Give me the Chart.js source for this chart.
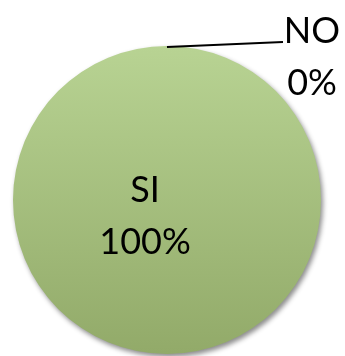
<!DOCTYPE html>
<html>
<head>
<meta charset="utf-8">
<script src="https://cdn.jsdelivr.net/npm/chart.js@4/dist/chart.umd.min.js"></script>
<style>
  html, body { margin: 0; padding: 0; background: #fff; }
  #wrap { width: 345px; height: 356px; }
</style>
</head>
<body>
<div id="wrap"><canvas id="chart" width="345" height="356"></canvas></div>
<script>
// chart data
const categories = ['SI', 'NO'];
const values = [100, 0];
const pctLabels = ['100%', '0%'];

const FONT = '36px Lato, "Open Sans", sans-serif';

// soft drop shadow under the pie, like the office chart
const shadowPlugin = {
  id: 'pieShadow',
  beforeDatasetDraw(chart) {
    const ctx = chart.ctx;
    ctx.save();
    ctx.shadowColor = 'rgba(0,0,0,0.45)';
    ctx.shadowBlur = 5;
    ctx.shadowOffsetX = 2;
    ctx.shadowOffsetY = 3;
  },
  afterDatasetDraw(chart) {
    chart.ctx.restore();
  },
};

// category + percent labels; the zero slice gets a leader line
const labelPlugin = {
  id: 'pieLabels',
  afterDatasetsDraw(chart) {
    const ctx = chart.ctx;
    const arcs = chart.getDatasetMeta(0).data;
    ctx.save();
    ctx.fillStyle = '#000';
    ctx.font = FONT;
    ctx.textAlign = 'center';
    ctx.textBaseline = 'alphabetic';

    arcs.forEach((arc, i) => {
      const { x, y, startAngle, outerRadius } = arc.getProps(['x', 'y', 'startAngle', 'outerRadius'], true);
      if (values[i] > 0) {
        ctx.fillText(categories[i], x - 22, y + 2);
        ctx.fillText(pctLabels[i], x - 22, y + 54);
      } else {
        // slice of zero width sits at its start angle on the rim
        const px = x + Math.cos(startAngle) * outerRadius;
        const py = y + Math.sin(startAngle) * outerRadius;
        const lx = x + 145;
        ctx.strokeStyle = '#000';
        ctx.lineWidth = 1.8;
        ctx.beginPath();
        ctx.moveTo(px, py + 1);
        ctx.lineTo(lx - 29, py - 4);
        ctx.stroke();
        ctx.fillText(categories[i], lx, y - 157);
        ctx.fillText(pctLabels[i], lx, y - 105);
      }
    });
    ctx.restore();
  },
};

new Chart(document.getElementById('chart'), {
  type: 'pie',
  data: {
    labels: categories,
    datasets: [{
      data: values,
      borderWidth: 0,
      backgroundColor(context) {
        const area = context.chart.chartArea;
        if (!area) return '#a5bf7c';
        const g = context.chart.ctx.createLinearGradient(0, area.top, 0, area.bottom);
        g.addColorStop(0, '#b8d393');
        g.addColorStop(1, '#92aa69');
        return g;
      },
    }],
  },
  options: {
    responsive: false,
    animation: false,
    layout: { padding: { left: 13, right: 24, top: 46, bottom: 2 } },
    plugins: {
      legend: { display: false },
      tooltip: { enabled: false },
    },
  },
  plugins: [shadowPlugin, labelPlugin],
});
</script>
</body>
</html>
